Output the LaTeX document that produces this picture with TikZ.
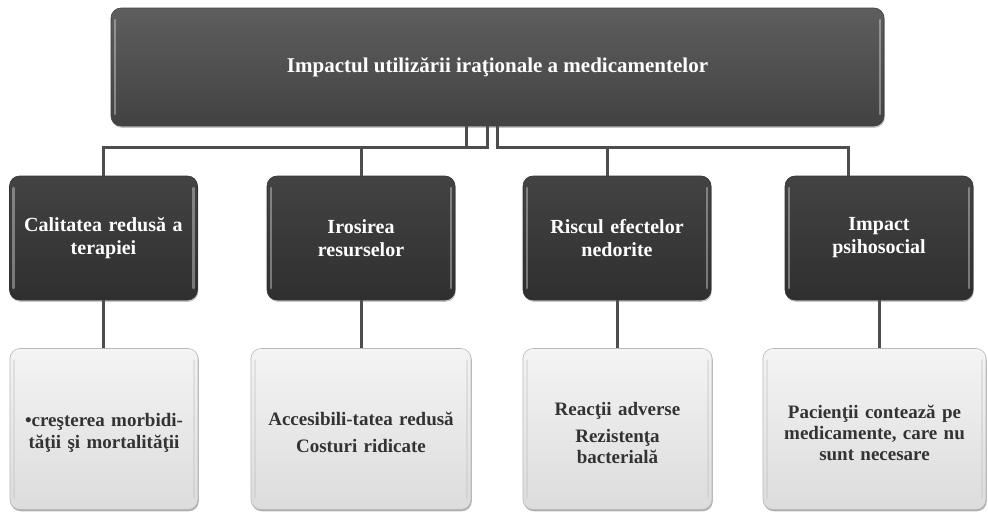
\documentclass[tikz,border=0pt]{standalone}
\usepackage{fontspec}
\setmainfont{Liberation Serif}
\usetikzlibrary{shadows}

\definecolor{headtop}{HTML}{5E5E5E}
\definecolor{headbot}{HTML}{424242}
\definecolor{darktop}{HTML}{434343}
\definecolor{darkbot}{HTML}{2F2F2F}
\definecolor{lighttop}{HTML}{F4F4F4}
\definecolor{lightbot}{HTML}{DCDCDC}
\definecolor{lightedge}{HTML}{B8B8B8}
\definecolor{linkgray}{HTML}{4D4D4D}
\definecolor{inktext}{HTML}{333333}

% strut that lowers the text block of the detail boxes a little
\newcommand{\lowerstrut}{\rule{0pt}{21pt}}

\tikzset{
  bevel/.style={
    path picture={
      \draw[#1,line width=2.5pt,line cap=round,opacity=0.35]
        ([xshift=4pt,yshift=-12pt]path picture bounding box.north west) --
        ([xshift=4pt,yshift=12pt]path picture bounding box.south west);
      \draw[#1,line width=2.5pt,line cap=round,opacity=0.35]
        ([xshift=-4pt,yshift=-12pt]path picture bounding box.north east) --
        ([xshift=-4pt,yshift=12pt]path picture bounding box.south east);
    }},
  boxbase/.style={rectangle, rounded corners=10pt, inner sep=4pt, align=center,
    font=\bfseries, drop shadow={shadow xshift=0.8pt, shadow yshift=-1.8pt, opacity=0.45}},
  headbox/.style={boxbase, top color=headtop, bottom color=headbot, draw=black!75,
    line width=0.6pt, text=white, font=\bfseries\fontsize{21}{24}\selectfont,
    bevel=white},
  catbox/.style={boxbase, top color=darktop, bottom color=darkbot, draw=black!80,
    line width=0.6pt, text=white, minimum width=186pt, minimum height=124pt,
    text width=180pt, font=\bfseries\fontsize{20}{23}\selectfont,
    bevel=white},
  detailbox/.style={boxbase, top color=lighttop, bottom color=lightbot, draw=lightedge,
    line width=0.6pt, text=inktext, minimum height=161pt,
    font=\bfseries\fontsize{19}{21}\selectfont, bevel=black!25,
    drop shadow={shadow xshift=0.6pt, shadow yshift=-1.6pt, opacity=0.3}},
  link/.style={draw=linkgray, line width=3pt}
}

\begin{document}
\begin{tikzpicture}[x=1pt,y=-1pt]
  \useasboundingbox[fill=white] (0,0) rectangle (988,512);

  % root of the hierarchy
  \node[headbox, minimum width=773pt, minimum height=118pt] (root) at (497.5,67)
    {Impactul utilizării iraţionale a medicamentelor};

  % four consequence categories
  \node[catbox] (c1) at (103.5,238) {Calitatea redusă a\\terapiei};
  \node[catbox] (c2) at (361,238) {Irosirea\\resurselor};
  \node[catbox] (c3) at (617,238) {Riscul efectelor\\nedorite};
  \node[catbox] (c4) at (879,238) {Impact\\psihosocial};

  % details under each category
  \node[detailbox, minimum width=186pt, text width=180pt] (d1) at (104,429)
    {\lowerstrut•creşterea morbidi-\\[1pt]tăţii şi mortalităţii};
  \node[detailbox, minimum width=218pt, text width=212pt] (d2) at (361,429)
    {\lowerstrut Accesibili-tatea redusă\\[6pt]Costuri ridicate};
  \node[detailbox, minimum width=187pt, text width=181pt] (d3) at (617.5,429)
    {\lowerstrut Reacţii adverse\\[6pt]Rezistenţa\\bacterială};
  \node[detailbox, minimum width=221pt, text width=215pt] (d4) at (874.5,429)
    {\lowerstrut Pacienţii contează pe\\medicamente, care nu\\sunt necesare};

  % junction points of the elbow connectors
  \coordinate (j1) at (466,147);
  \coordinate (j2) at (487,147);
  \coordinate (j3) at (497,147);
  \coordinate (k3) at (607,147);
  \coordinate (k4) at (848,147);

  % connectors from the root to the categories
  \draw[link] (root.south -| j1) -- (j1) -| (c1.north);
  \draw[link] (root.south -| j2) -- (j2) -| (c2.north);
  \draw[link] (root.south -| j3) -- (j3) -- (k3) -- (k3 |- c3.north);
  \draw[link] (root.south -| j3) -- (j3) -- (k4) -- (k4 |- c4.north);

  % connectors from categories to their details
  \draw[link] (c1.south) -- (c1.south |- d1.north);
  \draw[link] (c2.south) -- (c2.south |- d2.north);
  \draw[link] (c3.south) -- (c3.south |- d3.north);
  \draw[link] (c4.south) -- (c4.south |- d4.north);
\end{tikzpicture}
\end{document}
